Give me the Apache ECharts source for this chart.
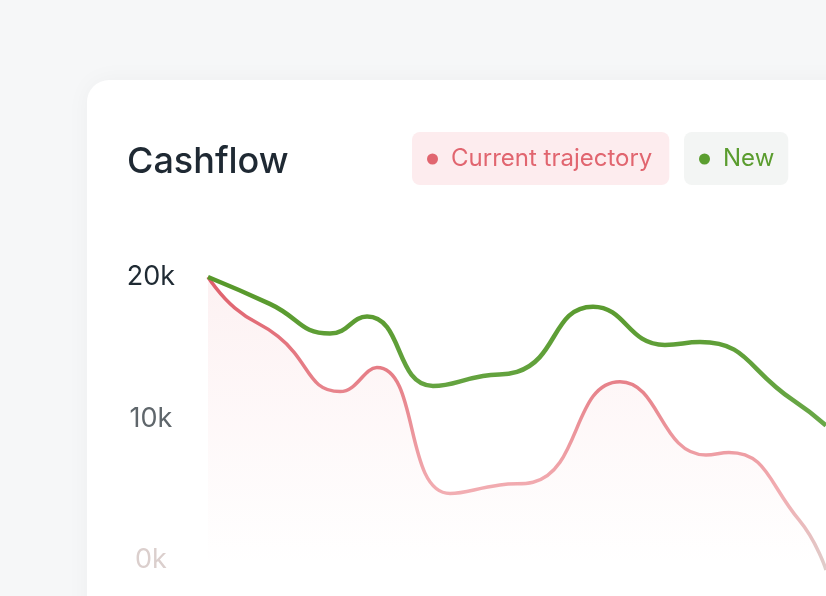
<!DOCTYPE html>
<html>
<head>
  <meta charset="UTF-8">
  <title>Cashflow</title>
  <script src="https://cdn.jsdelivr.net/npm/echarts@6/dist/echarts.min.js"></script>
  <style>
    html, body { margin: 0; padding: 0; background: #f6f7f8; }
  </style>
</head>
<body>
  <div id="main" style="width: 826px; height: 596px;"></div>

  <script>
    // "Current trajectory": day of month (0..30) and balance
    const currentDays = [
      0, 1.31, 3.4, 6.41, 8.2, 11.75, 14.17, 15.78,
      20.0, 24.17, 25.29, 28.69, 30
    ];
    const currentValues = [
      20000, 17800, 15800, 11900, 13600, 4700, 5300, 5500,
      12600, 7420, 7600, 2830, -700
    ];

    // "New": day of month (0..30) and balance
    const newDays = [
      0, 3.0, 5.92, 7.72, 10.92, 13.35, 15.0, 18.69,
      22.18, 23.88, 28.4, 30
    ];
    const newValues = [
      20000, 18100, 16000, 17200, 12300, 13000, 13300, 17900,
      15200, 15400, 11300, 9500
    ];

    const yTicks = [0, 10000, 20000];
    const labelColors = ['#dbcfcd', '#5f666b', '#1f2a33'];

    const pairs = (xs, ys) => xs.map((x, i) => [x, ys[i]]);

    const font = 'Inter, "Noto Sans", sans-serif';

    const option = {
      backgroundColor: '#f6f7f8',
      animation: false,
      textStyle: { fontFamily: font },
      graphic: [
        {
          type: 'rect',
          z: -10,
          shape: { x: 87, y: 80, width: 820, height: 600, r: 22 },
          style: {
            fill: '#ffffff',
            shadowBlur: 24,
            shadowColor: 'rgba(20, 30, 40, 0.04)'
          }
        }
      ],
      title: {
        text: 'Cashflow',
        left: 122,
        top: 139,
        textStyle: {
          fontFamily: font,
          fontSize: 36,
          fontWeight: 500,
          color: '#1f2933'
        }
      },
      legend: [
        {
          data: ['Current trajectory'],
          left: 412,
          top: 132,
          selectedMode: false,
          icon: 'circle',
          itemWidth: 11,
          itemHeight: 11,
          backgroundColor: '#fdecee',
          borderRadius: 8,
          padding: [14, 17, 13, 15],
          textStyle: {
            fontFamily: font,
            fontSize: 24,
            lineHeight: 26,
            color: '#e1656f',
            padding: [0, 0, 0, 8]
          }
        },
        {
          data: ['New'],
          left: 684,
          top: 132,
          selectedMode: false,
          icon: 'circle',
          itemWidth: 11,
          itemHeight: 11,
          backgroundColor: '#f3f5f4',
          borderRadius: 8,
          padding: [14, 14, 13, 15],
          textStyle: {
            fontFamily: font,
            fontSize: 24,
            lineHeight: 26,
            color: '#5a9c2e',
            padding: [0, 0, 0, 8]
          }
        }
      ],
      grid: {
        left: 208,
        right: 0,
        top: 277,
        bottom: 36
      },
      xAxis: {
        type: 'value',
        min: 0,
        max: 30,
        show: false
      },
      yAxis: {
        type: 'value',
        min: yTicks[0],
        max: yTicks[yTicks.length - 1],
        interval: 10000,
        axisLine: { show: false },
        axisTick: { show: false },
        splitLine: { show: false },
        axisLabel: {
          margin: 57,
          align: 'center',
          fontFamily: font,
          fontSize: 27,
          formatter: (v) => (v / 1000) + 'k',
          color: (v) => labelColors[yTicks.indexOf(Number(v))]
        }
      },
      series: [
        {
          name: 'Current trajectory',
          type: 'line',
          data: pairs(currentDays, currentValues),
          smooth: 0.5,
          showSymbol: false,
          clip: false,
          z: 2,
          itemStyle: { color: '#e1656f' },
          lineStyle: {
            width: 3.5,
            color: new echarts.graphic.LinearGradient(0, 277, 0, 575, [
              { offset: 0, color: '#df5f6b' },
              { offset: 0.38, color: '#e7848c' },
              { offset: 0.72, color: '#f2adb2' },
              { offset: 1, color: '#ddd0cd' }
            ], true)
          },
          areaStyle: {
            color: new echarts.graphic.LinearGradient(0, 0, 0, 1, [
              { offset: 0, color: 'rgba(232, 104, 116, 0.13)' },
              { offset: 1, color: 'rgba(232, 104, 116, 0)' }
            ])
          }
        },
        {
          name: 'New',
          type: 'line',
          data: pairs(newDays, newValues),
          smooth: 0.5,
          showSymbol: false,
          clip: false,
          z: 3,
          itemStyle: { color: '#5a9e2f' },
          lineStyle: {
            width: 4.5,
            color: new echarts.graphic.LinearGradient(0, 277, 0, 440, [
              { offset: 0, color: '#57982a' },
              { offset: 1, color: '#6ba94b' }
            ], true)
          }
        }
      ]
    };

    const chart = echarts.init(document.getElementById('main'));
    chart.setOption(option);
  </script>
</body>
</html>
